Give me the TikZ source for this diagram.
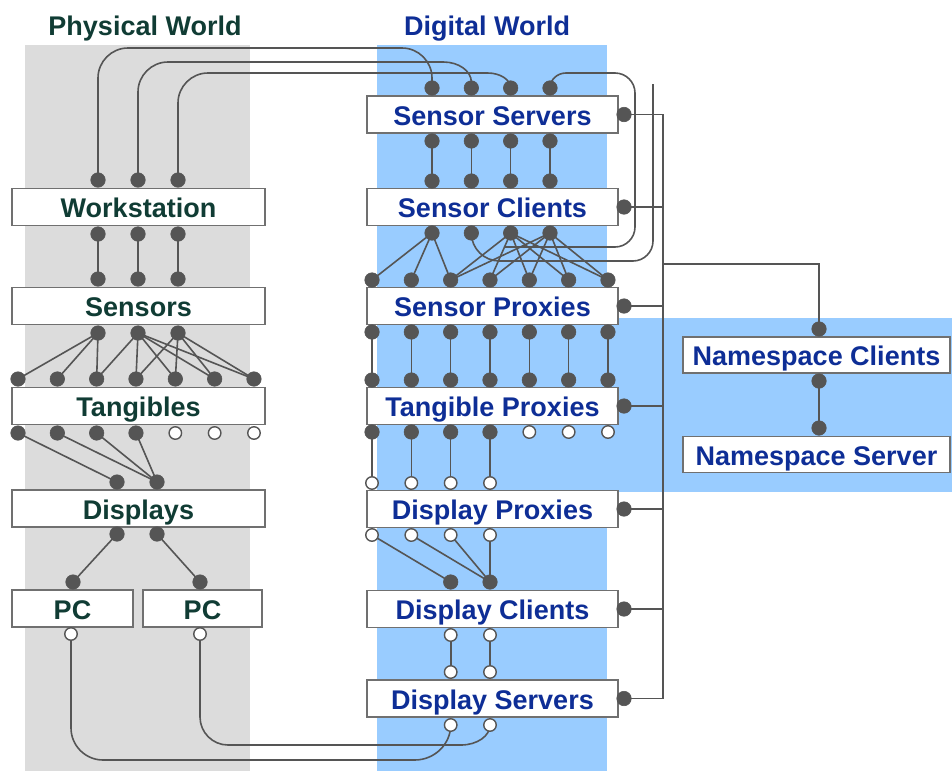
\documentclass[tikz,border=0pt]{standalone}
\usepackage{fontspec}
\setmainfont{Liberation Sans}
\usetikzlibrary{calc}
\definecolor{physband}{RGB}{220,220,220}
\definecolor{digband}{RGB}{153,204,255}
\definecolor{phystext}{RGB}{16,60,52}
\definecolor{digtext}{RGB}{14,46,150}
\definecolor{wirecol}{RGB}{85,85,85}
\definecolor{boxline}{RGB}{112,112,112}
\pgfdeclarelayer{bands}
\pgfdeclarelayer{wires}
\pgfsetlayers{bands,wires,main}
\tikzset{
  layerbox/.style={draw=boxline, line width=1.4pt, fill=white, minimum height=37pt,
    inner sep=0pt, font=\fontsize{27}{27}\selectfont\bfseries, text height=21pt, text depth=0pt},
  physbox/.style={layerbox, text=phystext, minimum width=253pt},
  digbox/.style={layerbox, text=digtext, minimum width=251pt},
  portf/.style={circle, fill=wirecol, draw=wirecol, line width=0.6pt, minimum size=14.5pt, inner sep=0pt},
  porto/.style={circle, fill=white, draw=wirecol, line width=1.4pt, minimum size=12.5pt, inner sep=0pt},
  wire/.style={draw=wirecol, line width=1.6pt},
  heading/.style={font=\fontsize{27}{27}\selectfont\bfseries, text height=21pt, text depth=0pt, inner sep=0pt}
}
\begin{document}
\begin{tikzpicture}[x=1pt,y=-1pt]
\useasboundingbox (0,0) rectangle (952,771);

% background bands
\begin{pgfonlayer}{bands}
  \fill[physband] (25,45) rectangle (250,771);
  \fill[digband] (377,45) rectangle (607,771);
  \fill[digband] (607,318) rectangle (952,492);
\end{pgfonlayer}

% headings
\node[heading, text=phystext] (tphys) at (145,25) {Physical World};
\node[heading, text=digtext] (tdig) at (487,25) {Digital World};

% physical world boxes
\node[physbox] (ws)  at (138.5,207)   {Workstation};
\node[physbox] (sen) at (138.5,306)   {Sensors};
\node[physbox] (tan) at (138.5,406)   {Tangibles};
\node[physbox] (dis) at (138.5,508.5) {Displays};
\node[physbox, minimum width=121pt] (pc1) at (72.5,608.5)  {PC};
\node[physbox, minimum width=119pt] (pc2) at (202.5,608.5) {PC};

% digital world boxes
\node[digbox] (ss) at (492.5,114.5) {Sensor Servers};
\node[digbox] (sc) at (492.5,207)   {Sensor Clients};
\node[digbox] (sp) at (492.5,306)   {Sensor Proxies};
\node[digbox] (tp) at (492.5,406)   {Tangible Proxies};
\node[digbox] (dp) at (492.5,509)   {Display Proxies};
\node[digbox] (dc) at (492.5,609)   {Display Clients};
\node[digbox] (ds) at (492.5,698.5) {Display Servers};
\node[digbox, minimum width=267pt, minimum height=36pt] (nc) at (816.5,355)   {Namespace Clients};
\node[digbox, minimum width=267pt, minimum height=36pt] (ns) at (816.5,454.5) {Namespace Server};

% ports of the physical world
\foreach \i/\x in {1/98,2/138,3/178} {
  \node[portf] (wst\i)  at (\x,180) {};
  \node[portf] (wsb\i)  at (\x,234) {};
  \node[portf] (sent\i) at (\x,279) {};
  \node[portf] (senb\i) at (\x,333) {};
}
\foreach \i in {1,...,7} {
  \node[portf] (tant\i) at ({18+39.33*(\i-1)},379) {};
}
\foreach \i in {1,...,4} { \node[portf] (tanb\i) at ({18+39.33*(\i-1)},433) {}; }
\foreach \i in {5,6,7}   { \node[porto] (tanb\i) at ({18+39.33*(\i-1)},433) {}; }
\node[portf] (dist1) at (117,482) {};
\node[portf] (dist2) at (157,482) {};
\node[portf] (disb1) at (117,534) {};
\node[portf] (disb2) at (157,534) {};
\node[portf] (pc1t) at (73,582) {};
\node[portf] (pc2t) at (200,582) {};
\node[porto] (pc1b) at (71,634) {};
\node[porto] (pc2b) at (200,634) {};

% ports of the digital world
\foreach \i in {1,...,4} {
  \node[portf] (sst\i) at ({432+39.33*(\i-1)},88) {};
  \node[portf] (ssb\i) at ({432+39.33*(\i-1)},141) {};
  \node[portf] (sct\i) at ({432+39.33*(\i-1)},181) {};
  \node[portf] (scb\i) at ({432+39.33*(\i-1)},233) {};
}
\foreach \i in {1,...,7} {
  \node[portf] (spt\i) at ({372+39.33*(\i-1)},280) {};
  \node[portf] (spb\i) at ({372+39.33*(\i-1)},332) {};
  \node[portf] (tpt\i) at ({372+39.33*(\i-1)},380) {};
}
\foreach \i in {1,...,4} {
  \node[portf] (tpb\i) at ({372+39.33*(\i-1)},432) {};
  \node[porto] (dpt\i) at ({372+39.33*(\i-1)},483) {};
  \node[porto] (dpb\i) at ({372+39.33*(\i-1)},535) {};
}
\foreach \i in {5,6,7} { \node[porto] (tpb\i) at ({372+39.33*(\i-1)},432) {}; }
\foreach \i/\x in {1/450.7,2/490} {
  \node[portf] (dct\i) at (\x,582) {};
  \node[porto] (dcb\i) at (\x,635) {};
  \node[porto] (dst\i) at (\x,672) {};
  \node[porto] (dsb\i) at (\x,725) {};
}
\foreach \b/\y in {ss/114.5,sc/207,sp/306,tp/406,dp/509,dc/609,ds/698.5} {
  \node[portf] (r-\b) at (624,\y) {};
}
\node[portf] (nct) at (819,329) {};
\node[portf] (ncb) at (819,381) {};
\node[portf] (nst) at (819,428) {};

% connectors
\begin{pgfonlayer}{wires}
  \coordinate (lev1) at (0,48);
  \coordinate (lev2) at (0,62);
  \coordinate (lev3) at (0,73);
  \coordinate (lowA) at (0,760);
  \coordinate (lowB) at (0,745);
  \coordinate (busx) at (663,0);
  \coordinate (loopAtop) at (635,73);
  \coordinate (loopAbot) at (635,247);
  \coordinate (loopAend) at (505,247);
  \coordinate (loopBbot) at (653,261);
  \coordinate (loopBend) at (653,84);
  \coordinate (nsbranch) at (663,264);

  % bend corners of the long wires
  \coordinate (w1l) at (wst1 |- lev1); \coordinate (w1r) at (sst1 |- lev1);
  \coordinate (w2l) at (wst2 |- lev2); \coordinate (w2r) at (sst2 |- lev2);
  \coordinate (w3l) at (wst3 |- lev3); \coordinate (w3r) at (sst3 |- lev3);
  \coordinate (l4) at (sst4 |- lev3);
  \coordinate (lb) at (scb2 |- loopBbot);
  \coordinate (p1l) at (pc1b |- lowA); \coordinate (p1r) at (dsb1 |- lowA);
  \coordinate (p2l) at (pc2b |- lowB); \coordinate (p2r) at (dsb2 |- lowB);

  % workstation to sensor servers
  \draw[wire] (wst1.center) -- ($(w1l)+(0,30)$) .. controls ($(w1l)+(0,13.5)$) and ($(w1l)+(13.5,0)$) .. ($(w1l)+(30,0)$)
    -- ($(w1r)+(-30,0)$) .. controls ($(w1r)+(-13.5,0)$) and ($(w1r)+(0,13.5)$) .. ($(w1r)+(0,30)$) -- (sst1.center);
  \draw[wire] (wst2.center) -- ($(w2l)+(0,30)$) .. controls ($(w2l)+(0,13.5)$) and ($(w2l)+(13.5,0)$) .. ($(w2l)+(30,0)$)
    -- ($(w2r)+(-28,0)$) .. controls ($(w2r)+(-12.6,0)$) and ($(w2r)+(0,9)$) .. ($(w2r)+(0,20)$) -- (sst2.center);
  \draw[wire] (wst3.center) -- ($(w3l)+(0,30)$) .. controls ($(w3l)+(0,13.5)$) and ($(w3l)+(13.5,0)$) .. ($(w3l)+(30,0)$)
    -- ($(w3r)+(-23,0)$) .. controls ($(w3r)+(-10.4,0)$) and ($(w3r)+(0,6.8)$) .. (sst3.center);

  % loops on the right of the sensor servers and clients
  \draw[wire] (sst4.center) .. controls ($(l4)+(0,6.8)$) and ($(l4)+(7.2,0)$) .. ($(l4)+(16,0)$)
    -- ($(loopAtop)+(-20,0)$) .. controls ($(loopAtop)+(-9,0)$) and ($(loopAtop)+(0,9)$) .. ($(loopAtop)+(0,20)$)
    -- ($(loopAbot)+(0,-20)$) .. controls ($(loopAbot)+(0,-9)$) and ($(loopAbot)+(-9,0)$) .. ($(loopAbot)+(-20,0)$)
    -- (loopAend);
  \draw[wire] (scb2.center) .. controls ($(lb)+(0,-12.6)$) and ($(lb)+(12.6,0)$) .. ($(lb)+(28,0)$)
    -- ($(loopBbot)+(-20,0)$) .. controls ($(loopBbot)+(-9,0)$) and ($(loopBbot)+(0,-9)$) .. ($(loopBbot)+(0,-20)$)
    -- (loopBend);

  % physical world links
  \foreach \i in {1,2,3} { \draw[wire] (wsb\i.center) -- (sent\i.center); }
  \foreach \a/\b in {1/1,1/2,1/3,2/3,2/4,2/5,2/6,2/7,3/4,3/5,3/6,3/7} {
    \draw[wire] (senb\a.center) -- (tant\b.center);
  }
  \foreach \a/\b in {1/1,2/2,3/2,4/2} { \draw[wire] (tanb\a.center) -- (dist\b.center); }
  \draw[wire] (disb1.center) -- (pc1t.center);
  \draw[wire] (disb2.center) -- (pc2t.center);

  % PCs to display servers
  \draw[wire] (pc1b.center) -- ($(p1l)+(0,-32)$) .. controls ($(p1l)+(0,-14.4)$) and ($(p1l)+(14.4,0)$) .. ($(p1l)+(32,0)$)
    -- ($(p1r)+(-36,0)$) .. controls ($(p1r)+(-16.2,0)$) and ($(p1r)+(0,-15.8)$) .. (dsb1.center);
  \draw[wire] (pc2b.center) -- ($(p2l)+(0,-28)$) .. controls ($(p2l)+(0,-12.6)$) and ($(p2l)+(12.6,0)$) .. ($(p2l)+(28,0)$)
    -- ($(p2r)+(-29,0)$) .. controls ($(p2r)+(-13,0)$) and ($(p2r)+(0,-9)$) .. (dsb2.center);

  % digital world links
  \foreach \i in {1,...,4} { \draw[wire] (ssb\i.center) -- (sct\i.center); }
  \foreach \a/\b in {1/1,1/2,1/3,3/3,3/4,3/5,3/6,3/7,4/3,4/4,4/5,4/6,4/7} {
    \draw[wire] (scb\a.center) -- (spt\b.center);
  }
  \foreach \i in {1,...,7} { \draw[wire] (spb\i.center) -- (tpt\i.center); }
  \foreach \i in {1,...,4} { \draw[wire] (tpb\i.center) -- (dpt\i.center); }
  \foreach \a/\b in {1/1,2/2,3/2,4/2} { \draw[wire] (dpb\a.center) -- (dct\b.center); }
  \foreach \i in {1,2} { \draw[wire] (dcb\i.center) -- (dst\i.center); }

  % namespace bus
  \draw[wire] (r-ss.center) -- (r-ss -| busx) -- (r-ds -| busx) -- (r-ds.center);
  \foreach \b in {sc,sp,tp,dp,dc} { \draw[wire] (r-\b.center) -- (r-\b -| busx); }
  \draw[wire] (nsbranch) -| (nct.center);
  \draw[wire] (ncb.center) -- (nst.center);
\end{pgfonlayer}
\end{tikzpicture}
\end{document}
